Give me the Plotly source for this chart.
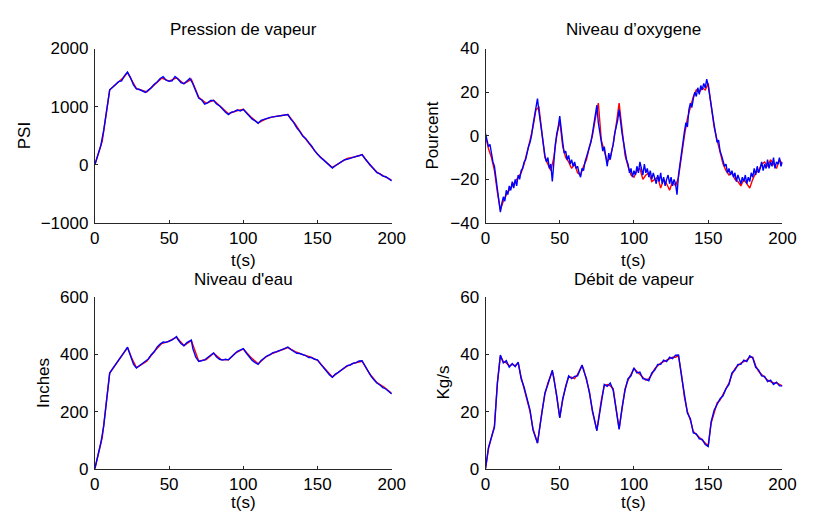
import plotly.graph_objects as go

# ---------------- data ----------------
# Pression de vapeur (PSI)
p_t_red = [0,5,10,15,20,22,25,28,30,35,40,45,50,55,60,65,70,75,80,85,90,95,100,105,110,115,120,125,130,135,140,145,150,155,160,165,170,175,180,185,190,195,200]
p_red = [0,410,1290,1400,1520,1585,1450,1310,1295,1255,1375,1490,1440,1495,1395,1470,1160,1060,1110,1000,880,925,955,825,720,785,825,845,865,700,505,345,180,65,-45,35,110,135,175,5,-125,-200,-265]
p_t_blue = [0,2,4,6,8,10,12,14,16,18,20,22,24,26,28,30,32,34,36,38,40,42,44,46,48,50,52,54,56,58,60,62,64,66,68,70,72,74,76,78,80,82,84,86,88,90,92,94,96,98,100,102,104,106,108,110,112,114,116,118,120,122,124,126,128,130,132,134,136,138,140,142,144,146,148,150,152,154,156,158,160,162,164,166,168,170,172,174,176,178,180,182,184,186,188,190,192,194,196,198,200]
p_blue = [0,160,330,600,950,1290,1335,1375,1430,1445,1535,1595,1500,1375,1305,1295,1275,1245,1285,1325,1385,1425,1485,1515,1455,1435,1445,1520,1475,1415,1395,1445,1485,1395,1255,1145,1115,1045,1065,1105,1105,1045,1015,955,905,865,905,915,945,925,955,895,845,785,755,715,765,785,805,815,825,835,835,845,855,865,785,725,635,575,495,455,385,325,245,185,125,85,35,-15,-55,-15,15,45,85,95,115,125,145,155,175,105,45,-25,-75,-135,-155,-195,-205,-245,-275]

# Niveau d'oxygene (Pourcent)
o_t_blue = list(range(0, 201))
o_blue = [1,-3,-5,-4,-9,-12,-14,-19,-24,-30,-35,-31,-28,-30,-25,-27,-23,-25,-21,-24,-20,
          -23,-18,-20,-16,-15,-12,-11,-7,-5,-3,0,5,9,13,17,11,6,0,-6,-9,
          -12,-10,-15,-13,-21,-12,-4,1,4,9,2,-3,-8,-7,-11,-9,-13,-11,-14,-12,
          -15,-14,-17,-19,-15,-16,-12,-10,-7,-6,-3,1,6,9,14,6,1,-4,-7,-5,
          -9,-14,-8,-11,-7,-4,1,4,7,12,5,1,-3,-8,-11,-13,-17,-15,-19,-16,
          -18,-14,-17,-12,-15,-18,-13,-17,-15,-19,-16,-20,-17,-19,-22,-18,-21,-17,-22,-19,
          -23,-20,-18,-22,-19,-23,-20,-22,-27,-18,-12,-8,-3,2,6,4,12,15,13,17,
          20,18,22,19,23,21,24,22,26,23,18,14,8,5,1,-3,-2,-7,-9,-12,
          -14,-13,-17,-15,-18,-16,-19,-17,-21,-18,-20,-22,-19,-21,-18,-22,-19,-21,-17,-19,
          -15,-18,-14,-17,-15,-12,-16,-13,-15,-11,-15,-12,-14,-10,-15,-12,-13,-10,-14,-12]
o_t_red = list(range(0, 201, 2))
o_red = [0,-6,-10,-16,-26,-34,-30,-27,-25,-23,-21,-19,-17,-13,-8,-2,4,12,13,2,-10,-13,-16,-10,0,7,
         -5,-10,-12,-15,-13,-17,-18,-14,-11,-5,0,8,15,-2,-7,-12,-10,-4,5,15,3,-9,-14,-18,-19,
         -16,-15,-20,-18,-17,-21,-20,-19,-24,-20,-22,-25,-21,-23,-19,-9,0,8,13,18,21,20,22,21,24,
         15,4,-2,-8,-13,-16,-18,-17,-20,-21,-23,-20,-22,-24,-20,-17,-16,-13,-12,-14,-11,-13,-15,-11,-13]

# Niveau d'eau (Inches)
w_t_red = [0,5,10,15,20,22,25,28,30,35,40,45,50,55,60,65,70,75,80,85,90,95,100,105,110,115,120,125,130,135,140,145,150,155,160,165,170,175,180,185,190,195,200]
w_red = [0,110,335,372,410,424,385,354,360,376,410,438,446,460,431,448,376,382,404,382,381,405,419,390,367,390,404,414,424,410,399,391,379,350,321,341,359,370,376,333,301,285,263]
w_t_blue = [0,2,4,6,8,10,12,14,16,18,20,22,24,26,28,30,32,34,36,38,40,42,44,46,48,50,52,54,55,56,58,60,62,64,65,66,68,70,72,74,76,78,80,82,84,86,88,90,92,94,96,98,100,102,104,106,108,110,112,114,116,118,120,122,124,126,128,130,132,134,136,138,140,142,144,146,148,150,152,154,156,158,160,162,164,166,168,170,172,174,176,178,180,182,184,186,188,190,192,194,196,198,200]
w_blue = [0,40,90,150,250,335,350,366,380,396,410,425,396,366,352,361,367,376,384,399,409,426,436,443,442,446,451,458,462,452,438,430,441,447,450,420,390,375,379,381,389,397,405,391,383,380,383,381,393,401,411,415,420,405,393,379,371,365,379,387,395,399,406,409,414,417,421,426,417,411,404,403,399,396,389,389,383,381,367,353,339,329,320,331,337,346,354,361,363,369,371,377,378,359,341,324,311,300,293,284,279,270,262]

# Debit de vapeur (Kg/s)
s_t = [0,2,4,6,8,10,12,14,16,18,20,22,24,26,28,30,32,35,38,40,42,44,45,46,48,50,52,54,56,58,60,62,64,65,66,68,70,72,75,78,80,82,84,86,88,90,92,94,96,98,100,102,104,106,108,110,112,114,116,118,120,122,124,126,128,130,132,134,136,138,140,142,144,146,148,150,152,154,156,158,160,162,164,166,168,170,172,174,176,178,180,182,184,186,188,190,192,194,196,198,200]
s_red = [0,7,11,15,30,39.5,37.5,37,36,36.5,36,37,32,28,25,20,14,9,20,26,30,33,34,32,25,18,24,29,32,32,31.5,33,35,36,35,31,27,20,13.5,24,29,29.5,29,28,20,14,21,28,31,33,35,34,33,32,31,31.5,33,35,36,37,37.5,38,38.5,39,39,39.5,33,25,20,17,13,12,11,10,9,8,16,20,23,24,26,27.5,30,33,35,36,37,37.5,38,39,39,36,34,33,32,31,30.5,30,30,29.5,29]
s_blue = [0,7.5,11,14.5,30,39.8,37,37.8,35.5,36.8,35.7,37.3,31.5,28.5,24.5,20.5,13.5,9,19.5,26.5,29.5,33.5,34.5,31.5,25.5,17.8,24.5,28.5,32.5,31.5,32.3,32.5,35.5,36.3,34.5,31.5,26.5,20.5,13.3,23.5,29.5,28.8,30,27.5,20.5,13.8,21.5,27.5,31.5,32.5,35.3,33.5,33.8,31.5,31.3,30.8,33.5,34.5,36.5,36.5,38,37.5,39,38.5,39.7,39.8,32.5,25.5,19.5,17.5,12.5,12.2,10.5,10.3,8.5,7.8,16.5,20.5,22.5,24.5,25.5,28,29.5,33.5,34.5,36.5,36.5,38,37.5,39.5,38.8,35.5,34.5,32.5,32.3,30.5,31,29.5,30.3,29,29]

# text
titles = ["Pression de vapeur", "Niveau d\u2019oxygene", "Niveau d'eau", "D\u00e9bit de vapeur"]
ylabels = ["PSI", "Pourcent", "Inches", "Kg/s"]
xlabel = "t(s)"
x_ticks = [0, 50, 100, 150, 200]
y_ticks = [[-1000, 0, 1000, 2000], [-40, -20, 0, 20, 40], [0, 200, 400, 600], [0, 20, 40, 60]]
y_ranges = [[-1000, 2000], [-40, 40], [0, 600], [0, 60]]

# ---------------- layout geometry ----------------
W, H = 814, 526
col_px = [(92, 396), (492, 796)]
row_px = [(41, 222), (299, 477)]

def fx(px):
    return px / W

def fy(py):
    return 1 - py / H

fig = go.Figure()

series = [
    (p_t_red, p_red, p_t_blue, p_blue),
    (o_t_red, o_red, o_t_blue, o_blue),
    (w_t_red, w_red, w_t_blue, w_blue),
    (s_t, s_red, s_t, s_blue),
]

FONT = "Liberation Sans, Arial, Helvetica, sans-serif"
FS = 17
AXC = "#262626"
annotations = []
for i, (tr, yr, tb, yb) in enumerate(series):
    r, c = divmod(i, 2)
    ax = "" if i == 0 else str(i + 1)
    fig.add_trace(go.Scatter(x=tr, y=yr, mode="lines", line=dict(color="#ff0000", width=1.4),
                             xaxis="x" + ax, yaxis="y" + ax, showlegend=False, hoverinfo="skip"))
    fig.add_trace(go.Scatter(x=tb, y=yb, mode="lines", line=dict(color="#0000ff", width=1.4),
                             xaxis="x" + ax, yaxis="y" + ax, showlegend=False, hoverinfo="skip"))
    x0, x1 = col_px[c]
    y0, y1 = row_px[r]
    fig.layout["xaxis" + ax] = dict(
        domain=[fx(x0), fx(x1)], range=[0, 200], anchor="y" + ax,
        tickvals=x_ticks, ticks="inside", ticklen=3, tickcolor=AXC,
        showline=True, linecolor=AXC, linewidth=1, showgrid=False, zeroline=False,
        ticklabelstandoff=0,
        tickfont=dict(family=FONT, size=FS, color="#000000"), fixedrange=True,
    )
    fig.layout["yaxis" + ax] = dict(
        domain=[fy(y1), fy(y0)], range=y_ranges[i], anchor="x" + ax,
        tickvals=y_ticks[i], ticks="inside", ticklen=3, tickcolor=AXC,
        showline=True, linecolor=AXC, linewidth=1, showgrid=False, zeroline=False,
        ticklabelstandoff=2,
        tickfont=dict(family=FONT, size=FS, color="#000000"), fixedrange=True,
    )
    cx = (x0 + x1) / 2
    title_y = 21 if r == 0 else 281
    xlab_y = 261 if r == 0 else 512
    annotations.append(dict(text=titles[i], x=fx(cx), y=fy(title_y), xref="paper", yref="paper",
                            xanchor="center", yanchor="middle", showarrow=False,
                            font=dict(family=FONT, size=FS, color="#000000")))
    annotations.append(dict(text=xlabel, x=fx(cx), y=fy(xlab_y), xref="paper", yref="paper",
                            xanchor="center", yanchor="middle", showarrow=False,
                            font=dict(family=FONT, size=FS, color="#000000")))
    ylab_x = [20, 438, 40, 449][i]
    annotations.append(dict(text=ylabels[i], x=fx(ylab_x), y=fy((y0 + y1) / 2), xref="paper", yref="paper",
                            xanchor="center", yanchor="middle", showarrow=False, textangle=-90,
                            font=dict(family=FONT, size=FS, color="#000000")))

fig.update_layout(
    width=W, height=H, margin=dict(l=0, r=0, t=0, b=0),
    paper_bgcolor="white", plot_bgcolor="white",
    annotations=annotations,
)

fig.write_html("out.html")
